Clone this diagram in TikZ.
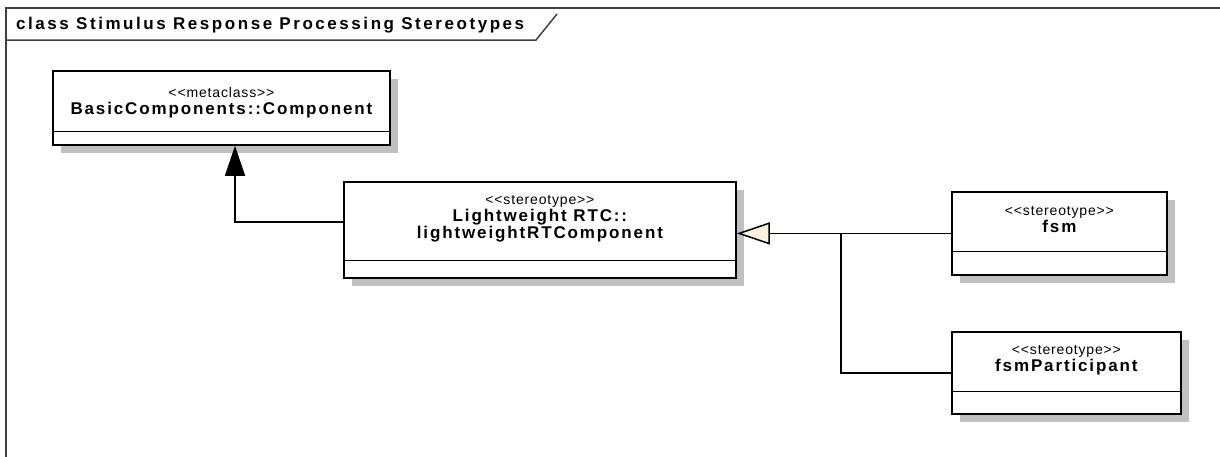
\documentclass[tikz,border=0pt]{standalone}
\usepackage{fontspec}
\setmainfont{Liberation Sans}
\newfontfamily\titlefont[LetterSpace=15]{Liberation Sans}
\newfontfamily\namefont[LetterSpace=11]{Liberation Sans}
\newfontfamily\sterfont[LetterSpace=6]{Liberation Sans}
\usetikzlibrary{arrows.meta,shadows,calc}
\definecolor{shadowgray}{RGB}{192,192,192}
\definecolor{cream}{RGB}{252,240,225}
\tikzset{
  classbox/.style={draw=black, line width=1.8pt, fill=white, anchor=north west, inner sep=0pt,
    general shadow={shadow xshift=8pt, shadow yshift=-8pt, fill=shadowgray, draw=none}},
  divider/.style={draw=black, line width=1pt},
  label/.style={align=center, inner sep=0pt, font=\sterfont\fontsize{14}{17}\selectfont},
  conn/.style={draw=black, line width=1.5pt},
  frameline/.style={draw=black!75, line width=1.5pt}
}
\newcommand{\nm}[1]{{\namefont\bfseries\fontsize{17}{17}\selectfont #1}}
\begin{document}
\begin{tikzpicture}[x=1pt,y=-1pt]
\useasboundingbox (0,0) rectangle (1220,456);
% frame
\draw[frameline] (1224,8) -- (6,8) -- (6,460);
\draw[frameline] (6,40) -- (536,40) -- (557,14);
\node[anchor=west, inner sep=0pt, font=\titlefont\bfseries\fontsize{17}{19}\selectfont] (title) at (16,25) {class Stimulus Response Processing Stereotypes};
% boxes
\node[classbox, minimum width=337pt, minimum height=74pt] (basic) at (52,70) {};
\draw[divider] ($(basic.north west)+(0,61)$) coordinate (bd1) -- (bd1 -| basic.east);
\node[label] (basictext) at ($(basic.north)+(0,33)$) {<<metaclass>>\\\nm{BasicComponents::Component}};

\node[classbox, minimum width=392pt, minimum height=96pt] (lw) at (343,181) {};
\draw[divider] ($(lw.north west)+(0,79)$) coordinate (ld1) -- (ld1 -| lw.east);
\node[label] (lwtext) at ($(lw.north)+(0,38)$) {<<stereotype>>\\\nm{Lightweight RTC::}\\\nm{lightweightRTComponent}};

\node[classbox, minimum width=215pt, minimum height=83pt] (fsm) at (951,191) {};
\draw[divider] ($(fsm.north west)+(0,60)$) coordinate (fd1) -- (fd1 -| fsm.east);
\node[label] (fsmtext) at ($(fsm.north)+(0,29)$) {<<stereotype>>\\\nm{fsm}};

\node[classbox, minimum width=229pt, minimum height=82pt] (fp) at (951,331) {};
\draw[divider] ($(fp.north west)+(0,60)$) coordinate (pd1) -- (pd1 -| fp.east);
\node[label] (fptext) at ($(fp.north)+(0,29)$) {<<stereotype>>\\\nm{fsmParticipant}};

% connectors
\coordinate (basictip) at ($(basic.south west)+(183,0)$);
\draw[conn, -{Triangle[length=30pt, width=20pt, fill=black]}] ($(lw.north west)+(0,41)$) -| (basictip);
\coordinate (junc) at ($(fsm.west)+(-110,0)$);
\draw[conn, -{Triangle[open, length=33pt, width=22pt, fill=cream]}] (fsm.west) -- (fsm.west -| lw.east);
\draw[conn] (fp.west) -| (junc);
\end{tikzpicture}
\end{document}
